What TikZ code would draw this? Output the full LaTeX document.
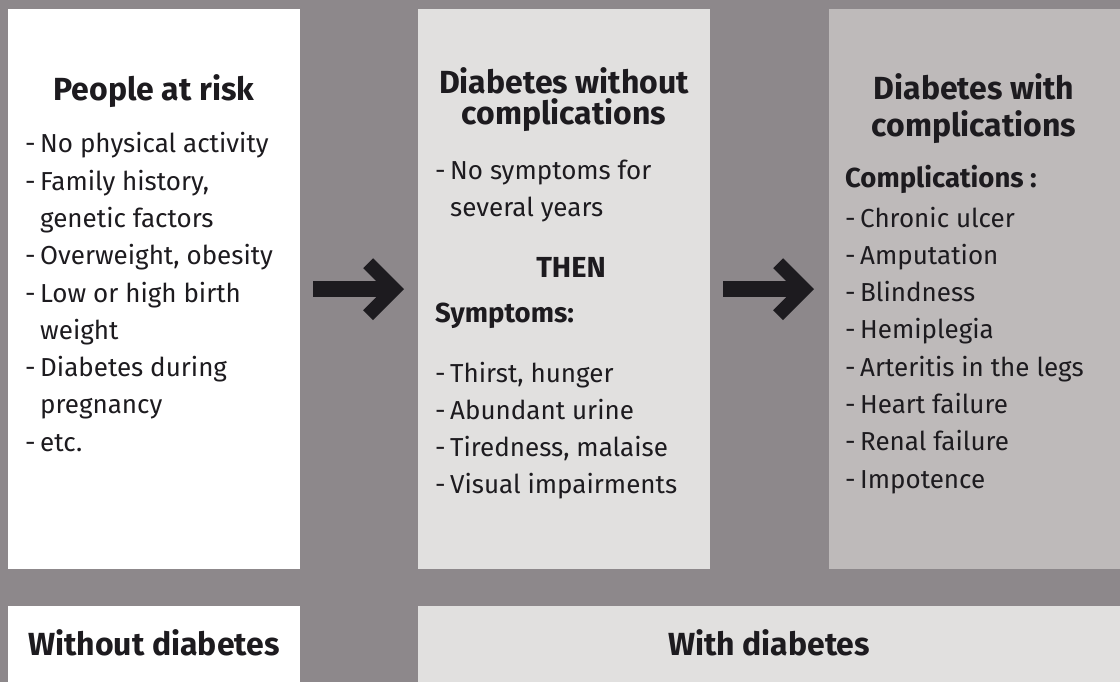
\documentclass[tikz,border=0pt]{standalone}
\usepackage{fontspec}
\setmainfont{Fira Sans}
\usetikzlibrary{arrows.meta, positioning}
\definecolor{framegray}{RGB}{141, 136, 139}
\definecolor{stagelight}{RGB}{225, 224, 223}
\definecolor{stagedark}{RGB}{190, 186, 186}
\definecolor{inkblack}{RGB}{29, 27, 31}
\newcommand{\itm}[2]{\makebox[15pt][l]{#1}#2}

\begin{document}
\begin{tikzpicture}[x=1pt, y=-1pt,
    panel/.style={inner sep=0pt, anchor=north west},
    title/.style={font=\fontsize{32}{34}\selectfont\bfseries, text=inkblack, inner sep=0pt, anchor=base},
    head/.style={font=\fontsize{27.5}{30}\selectfont\bfseries, text=inkblack, inner sep=0pt},
    item/.style={font=\fontsize{26}{30}\selectfont, text=inkblack, inner sep=0pt, anchor=base west},
    flow/.style={line width=16pt, draw=inkblack, -{Straight Barb[sharp, length=26pt, width=52pt, line width=14pt]}}]
    % frame
    \fill[framegray] (0,0) rectangle (1120,682);
    \useasboundingbox (0,0) rectangle (1120,682);

    % Stages
    \node[panel, fill=white, minimum width=292pt, minimum height=560pt] (risk) at (8,9) {};
    \node[panel, fill=stagelight, minimum width=292pt, minimum height=560pt] (nocomp) at (418,9) {};
    \node[panel, fill=stagedark, minimum width=291pt, minimum height=560pt] (comp) at (829,9) {};

    % Bottom bands
    \node[panel, fill=white, minimum width=292pt, minimum height=76pt] (without) at (8,606) {};
    \node[panel, fill=stagelight, minimum width=702pt, minimum height=76pt] (with) at (418,606) {};

    % Arrows
    \draw[flow] ([xshift=13pt]risk.east) -- ([xshift=-14pt]nocomp.west);
    \draw[flow] ([xshift=13pt]nocomp.east) -- ([xshift=-15pt]comp.west);

    % People at risk
    \node[title] (risk-title) at (154,101) {People at risk};
    \foreach \d/\t [count=\i] in {-/No physical activity, -/{Family history,}, /genetic factors,
        -/{Overweight, obesity}, -/Low or high birth, /weight, -/Diabetes during, /pregnancy, -/etc.}
        \node[item] (risk-\i) at (25, 153+37.25*\i-37.25) {\itm{\d}{\t}};

    % Diabetes without complications
    \node[title] (nocomp-title-a) at (564,94) {Diabetes without};
    \node[title] (nocomp-title-b) at (564,125) {complications};
    \node[item] (nocomp-1) at (435,179) {\itm{-}{No symptoms for}};
    \node[item] (nocomp-2) at (435,216) {\itm{}{several years}};
    \node[head, anchor=base, font=\fontsize{29}{30}\selectfont\bfseries] (then) at (571,277) {THEN};
    \node[head, anchor=base west] (symptoms) at (435,322) {Symptoms:};
    \foreach \t [count=\i] in {{Thirst, hunger}, Abundant urine, {Tiredness, malaise}, Visual impairments}
        \node[item] (sympt-\i) at (435, 382+37*\i-37) {\itm{-}{\t}};

    % Diabetes with complications
    \node[title] (comp-title-a) at (974,100) {Diabetes with};
    \node[title] (comp-title-b) at (974,137) {complications};
    \node[head, anchor=base west] (complic) at (845,188) {Complications :};
    \foreach \t [count=\i] in {Chronic ulcer, Amputation, Blindness, Hemiplegia,
        Arteritis in the legs, Heart failure, Renal failure, Impotence}
        \node[item] (compl-\i) at (845, 227+37.3*\i-37.3) {\itm{-}{\t}};

    % Bottom labels
    \node[title] (without-label) at (154,655) {Without diabetes};
    \node[title] (with-label) at (769,655) {With diabetes};
\end{tikzpicture}
\end{document}
